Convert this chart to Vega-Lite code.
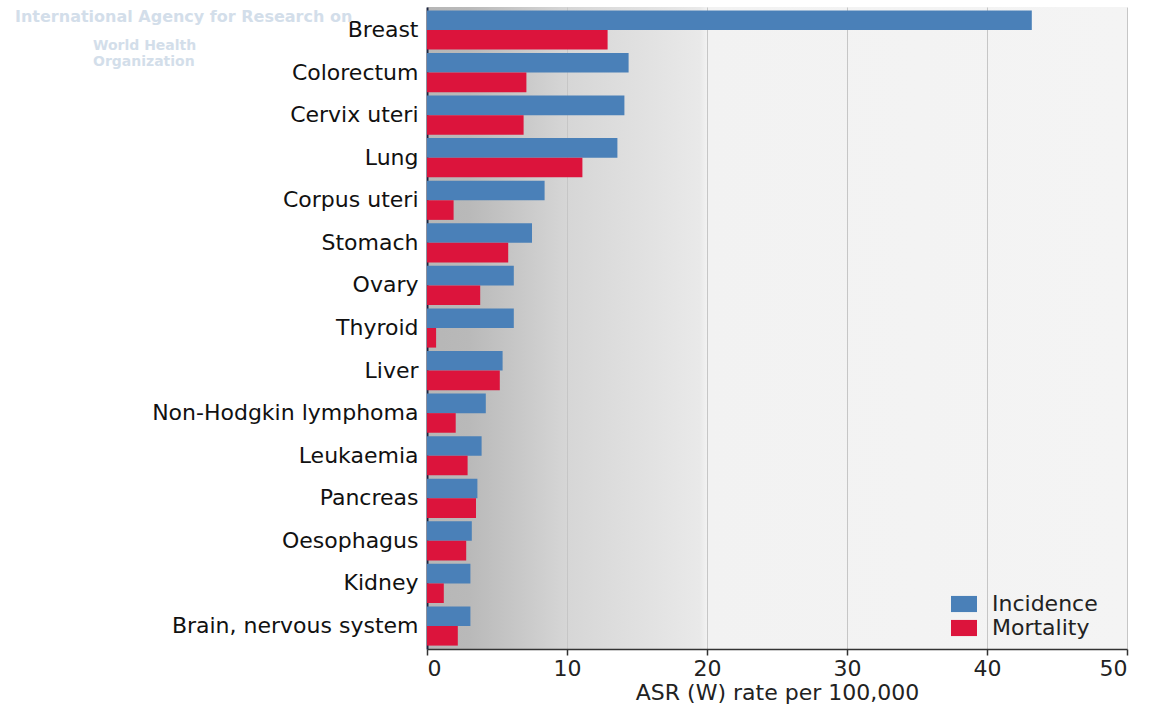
{
  "$schema": "https://vega.github.io/schema/vega-lite/v6.json",
  "autosize": "none",
  "width": 700,
  "height": 642,
  "padding": {"left": 427, "top": 7, "right": 26, "bottom": 62},
  "background": "white",
  "title": {
    "text": "International Agency for Research on",
    "subtitle": ["\u200b\u00a0\u00a0\u00a0\u00a0\u00a0\u00a0\u00a0\u00a0\u00a0\u00a0\u00a0\u00a0\u00a0\u00a0\u00a0\u00a0World Health", "\u200b\u00a0\u00a0\u00a0\u00a0\u00a0\u00a0\u00a0\u00a0\u00a0\u00a0\u00a0\u00a0\u00a0\u00a0\u00a0\u00a0Organization"],
    "anchor": "start",
    "frame": "group",
    "orient": "top",
    "offset": 0,
    "dx": -412,
    "dy": 62,
    "font": "DejaVu Sans",
    "fontSize": 16,
    "fontWeight": "bold",
    "color": "#d3deea",
    "subtitleFont": "DejaVu Sans",
    "subtitleFontSize": 14,
    "subtitleFontWeight": "bold",
    "subtitleColor": "#d3deea",
    "subtitlePadding": 14,
    "subtitleLineHeight": 16
  },
  "data": {
    "values": [
      {"site": "Breast", "series": "Incidence", "rate": 43.2},
      {"site": "Breast", "series": "Mortality", "rate": 12.9},
      {"site": "Colorectum", "series": "Incidence", "rate": 14.4},
      {"site": "Colorectum", "series": "Mortality", "rate": 7.1},
      {"site": "Cervix uteri", "series": "Incidence", "rate": 14.1},
      {"site": "Cervix uteri", "series": "Mortality", "rate": 6.9},
      {"site": "Lung", "series": "Incidence", "rate": 13.6},
      {"site": "Lung", "series": "Mortality", "rate": 11.1},
      {"site": "Corpus uteri", "series": "Incidence", "rate": 8.4},
      {"site": "Corpus uteri", "series": "Mortality", "rate": 1.9},
      {"site": "Stomach", "series": "Incidence", "rate": 7.5},
      {"site": "Stomach", "series": "Mortality", "rate": 5.8},
      {"site": "Ovary", "series": "Incidence", "rate": 6.2},
      {"site": "Ovary", "series": "Mortality", "rate": 3.8},
      {"site": "Thyroid", "series": "Incidence", "rate": 6.2},
      {"site": "Thyroid", "series": "Mortality", "rate": 0.65},
      {"site": "Liver", "series": "Incidence", "rate": 5.4},
      {"site": "Liver", "series": "Mortality", "rate": 5.2},
      {"site": "Non-Hodgkin lymphoma", "series": "Incidence", "rate": 4.2},
      {"site": "Non-Hodgkin lymphoma", "series": "Mortality", "rate": 2.05},
      {"site": "Leukaemia", "series": "Incidence", "rate": 3.9},
      {"site": "Leukaemia", "series": "Mortality", "rate": 2.9},
      {"site": "Pancreas", "series": "Incidence", "rate": 3.6},
      {"site": "Pancreas", "series": "Mortality", "rate": 3.5},
      {"site": "Oesophagus", "series": "Incidence", "rate": 3.2},
      {"site": "Oesophagus", "series": "Mortality", "rate": 2.8},
      {"site": "Kidney", "series": "Incidence", "rate": 3.1},
      {"site": "Kidney", "series": "Mortality", "rate": 1.2},
      {"site": "Brain, nervous system", "series": "Incidence", "rate": 3.1},
      {"site": "Brain, nervous system", "series": "Mortality", "rate": 2.2}
    ]
  },
  "mark": {"type": "bar"},
  "encoding": {
    "y": {
      "field": "site",
      "type": "nominal",
      "sort": null,
      "scale": {"paddingInner": 0.08, "paddingOuter": 0.08},
      "axis": {
        "title": null,
        "ticks": false,
        "grid": false,
        "domainColor": "#1c2540",
        "domainWidth": 2,
        "labelFont": "DejaVu Sans",
        "labelFontSize": 22,
        "labelColor": "#111111",
        "labelPadding": 9,
        "labelLimit": 420
      }
    },
    "yOffset": {
      "field": "series",
      "type": "nominal",
      "sort": ["Incidence", "Mortality"],
      "scale": {"paddingInner": 0, "paddingOuter": 0}
    },
    "x": {
      "field": "rate",
      "type": "quantitative",
      "scale": {"domain": [0, 50], "nice": false, "zero": true},
      "axis": {
        "title": "ASR (W) rate per 100,000",
        "values": [0, 10, 20, 30, 40, 50],
        "grid": true,
        "gridColor": "#c6c6c6",
        "gridWidth": 1,
        "domainColor": "#333333",
        "domainWidth": 1.5,
        "tickColor": "#333333",
        "tickSize": 6,
        "tickWidth": 1.5,
        "labelFont": "DejaVu Sans",
        "labelFontSize": 22,
        "labelColor": "#222222",
        "labelPadding": 3,
        "titleFont": "DejaVu Sans",
        "titleFontSize": 22,
        "titleFontWeight": "normal",
        "titleColor": "#222222",
        "titlePadding": 3
      }
    },
    "color": {
      "field": "series",
      "type": "nominal",
      "scale": {"domain": ["Incidence", "Mortality"], "range": ["#4a80b8", "#dc143c"]},
      "legend": {
        "title": null,
        "orient": "none",
        "legendX": 524,
        "legendY": 584,
        "symbolType": "M-1,-0.62H1V0.62H-1Z",
        "symbolSize": 676,
        "symbolStrokeWidth": 0,
        "symbolOpacity": 1,
        "labelFont": "DejaVu Sans",
        "labelFontSize": 22,
        "labelColor": "#222222",
        "labelOffset": 15,
        "rowPadding": 0
      }
    }
  },
  "config": {
    "view": {
      "stroke": null,
      "fill": {
        "gradient": "linear",
        "x1": 0, "y1": 0, "x2": 1, "y2": 0,
        "stops": [
          {"offset": 0, "color": "#b6b6b6"},
          {"offset": 0.06, "color": "#b9b9b9"},
          {"offset": 0.2, "color": "#d6d6d6"},
          {"offset": 0.39, "color": "#e9e9e9"},
          {"offset": 0.4, "color": "#f2f2f2"},
          {"offset": 1, "color": "#f4f4f4"}
        ]
      }
    }
  }
}
